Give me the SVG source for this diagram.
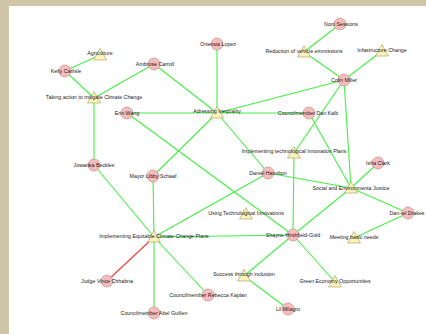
<svg xmlns="http://www.w3.org/2000/svg" width="426" height="334" viewBox="0 0 426 334">
<style>
.e{stroke:#44f044;stroke-width:1.1;fill:none}
.r{stroke:#f03c3c;stroke-width:1.1;fill:none}
.c{fill:#f7bcbc;stroke:#c49a9a;stroke-width:0.8}
.t{fill:#fbf4b8;stroke:#b8ae7c;stroke-width:0.8}
text{font-family:"Liberation Sans",Arial,sans-serif;font-size:5.3px;fill:#1a1a1a;text-anchor:middle}
</style>
<defs>
<circle id="cn" r="6" class="c"/>
<polygon id="tn" points="0,-6.5 6.5,5 -6.5,5" class="t"/>
</defs>
<rect width="426" height="334" fill="#ffffff"/>
<rect x="0" y="0" width="426" height="6" fill="#d0c4a9"/>
<rect x="0" y="0" width="9" height="334" fill="#d0c4a9"/>
<g id="connectors">
<line class="e" x1="65" y1="71" x2="100" y2="55"/>
<line class="e" x1="65" y1="71" x2="94" y2="98"/>
<line class="e" x1="154" y1="64" x2="94" y2="98"/>
<line class="e" x1="154" y1="64" x2="217" y2="113"/>
<line class="e" x1="94" y1="98" x2="94" y2="165"/>
<line class="e" x1="127" y1="113" x2="217" y2="113"/>
<line class="e" x1="127" y1="113" x2="293" y2="235"/>
<line class="e" x1="153" y1="176" x2="217" y2="113"/>
<line class="e" x1="153" y1="176" x2="154" y2="237"/>
<line class="e" x1="94" y1="165" x2="154" y2="237"/>
<line class="e" x1="217" y1="44" x2="217" y2="113"/>
<line class="e" x1="340" y1="24" x2="304" y2="52"/>
<line class="e" x1="304" y1="52" x2="344" y2="80"/>
<line class="e" x1="382" y1="51" x2="344" y2="80"/>
<line class="e" x1="344" y1="80" x2="217" y2="113"/>
<line class="e" x1="217" y1="113" x2="309" y2="113"/>
<line class="e" x1="344" y1="80" x2="294" y2="153"/>
<line class="e" x1="344" y1="80" x2="351" y2="188"/>
<line class="e" x1="309" y1="113" x2="351" y2="188"/>
<line class="e" x1="294" y1="153" x2="293" y2="235"/>
<line class="e" x1="217" y1="113" x2="268" y2="173"/>
<line class="e" x1="268" y1="173" x2="351" y2="188"/>
<line class="e" x1="268" y1="173" x2="154" y2="237"/>
<line class="e" x1="378" y1="163" x2="351" y2="188"/>
<line class="e" x1="351" y1="188" x2="408" y2="213"/>
<line class="e" x1="351" y1="188" x2="293" y2="235"/>
<line class="e" x1="154" y1="237" x2="293" y2="235"/>
<line class="r" x1="154" y1="237" x2="107" y2="281"/>
<line class="e" x1="154" y1="237" x2="154" y2="313"/>
<line class="e" x1="154" y1="237" x2="208" y2="295"/>
<line class="e" x1="293" y1="235" x2="244" y2="276"/>
<line class="e" x1="244" y1="276" x2="288" y2="309"/>
<line class="e" x1="293" y1="235" x2="335" y2="282"/>
<line class="e" x1="408" y1="213" x2="354" y2="238"/>
</g>
<g id="kelly-carlisle"><use href="#cn" x="65" y="71"/><text x="66" y="72.8">Kelly Carlisle</text></g>
<g id="ambrose-carroll"><use href="#cn" x="154" y="64"/><text x="155" y="65.8">Ambrose Carroll</text></g>
<g id="erin-wang"><use href="#cn" x="127" y="113"/><text x="127" y="114.8">Erin Wang</text></g>
<g id="ortensia-lopez"><use href="#cn" x="217" y="44"/><text x="218" y="45.8">Ortensia Lopez</text></g>
<g id="noni-sessions"><use href="#cn" x="340" y="24"/><text x="341" y="25.8">Noni Sessions</text></g>
<g id="colin-miller"><use href="#cn" x="344" y="80"/><text x="344" y="81.8">Colin Miller</text></g>
<g id="dan-kalb"><use href="#cn" x="309" y="113"/><text x="308" y="114.8">Councilmember Dan Kalb</text></g>
<g id="jowanka-beckles"><use href="#cn" x="94" y="165"/><text x="94" y="166.8">Jowanka Beckles</text></g>
<g id="libby-schaaf"><use href="#cn" x="153" y="176"/><text x="153" y="177.8">Mayor Libby Schaaf</text></g>
<g id="isha-clark"><use href="#cn" x="378" y="163"/><text x="378" y="164.8">Isha Clark</text></g>
<g id="daniel-hamilton"><use href="#cn" x="268" y="173"/><text x="268" y="174.8">Daniel Hamilton</text></g>
<g id="daniel-drakes"><use href="#cn" x="408" y="213"/><text x="407" y="214.8">Dan-iel Drakes</text></g>
<g id="vince-chhabria"><use href="#cn" x="107" y="281"/><text x="107" y="282.8">Judge Vince Chhabria</text></g>
<g id="abel-guillen"><use href="#cn" x="154" y="313"/><text x="154" y="314.8">Councilmember Abel Guillen</text></g>
<g id="rebecca-kaplan"><use href="#cn" x="208" y="295"/><text x="208" y="296.8">Councilmember Rebecca Kaplan</text></g>
<g id="shayne-hirshfield-gold"><use href="#cn" x="293" y="235"/><text x="293" y="236.8">Shayne Hirshfield-Gold</text></g>
<g id="lil-milagro"><use href="#cn" x="288" y="309"/><text x="288" y="310.8">Lil Milagro</text></g>
<g id="agriculture"><use href="#tn" x="100" y="55"/><text x="100" y="55.3">Agriculture</text></g>
<g id="taking-action"><use href="#tn" x="94" y="98"/><text x="94" y="99.3">Taking action to mitigate Climate Change</text></g>
<g id="reduction-vehicle"><use href="#tn" x="304" y="52"/><text x="304" y="52.8">Reduction of vehicle emmissions</text></g>
<g id="infastructure-change"><use href="#tn" x="382" y="51"/><text x="382" y="52">Infastructure Change</text></g>
<g id="adressing-inequality"><use href="#tn" x="217" y="113"/><text x="217" y="112.8">Adressing Inequality</text></g>
<g id="impl-tech-plans"><use href="#tn" x="294" y="153"/><text x="294" y="152.8">Implementing technological Innovation Plans</text></g>
<g id="social-justice"><use href="#tn" x="351" y="188"/><text x="351" y="189.5">Social and Environmenta Justice</text></g>
<g id="using-tech"><use href="#tn" x="246" y="214"/><text x="246" y="215.3">Using Technological Innovations</text></g>
<g id="impl-equitable"><use href="#tn" x="154" y="237"/><text x="154" y="238.3">Implementing Equitable Climate Change Plans</text></g>
<g id="meeting-needs"><use href="#tn" x="354" y="238"/><text x="354" y="238.8">Meeting basic needs</text></g>
<g id="success-inclusion"><use href="#tn" x="244" y="276"/><text x="244" y="275.8">Success through inclusion</text></g>
<g id="green-economy"><use href="#tn" x="335" y="282"/><text x="335" y="283.3">Green Economy Opportunities</text></g>
</svg>
